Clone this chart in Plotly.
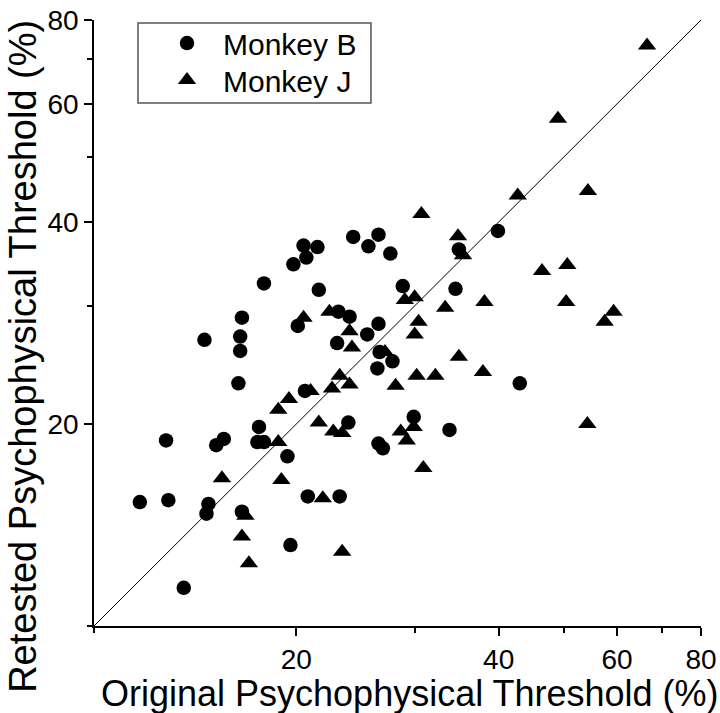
import math
import plotly.graph_objects as go

# Monkey B (circles): original vs retested threshold (%)
b_orig = [20.5, 20.7, 19.8, 17.9, 16.6, 20.1, 14.6, 16.5, 16.5, 16.4, 20.6,
          21.5, 24.3, 26.5, 25.6, 27.6, 34.9, 21.6, 28.8, 34.5, 23.1, 24.0,
          26.5, 25.5, 23.0, 26.6, 27.8, 26.4, 39.9, 43.0, 12.8, 15.2, 15.6,
          17.6, 17.5, 17.9, 19.4, 11.7, 12.9, 20.8, 14.8, 14.7, 16.6, 19.6,
          13.6, 23.9, 29.9, 33.8, 26.5, 26.9, 23.2]
b_retest = [36.9, 35.4, 34.6, 32.4, 28.8, 28.0, 26.7, 27.0, 25.7, 23.0, 22.4,
            36.7, 38.0, 38.3, 36.8, 35.9, 36.4, 31.7, 32.1, 31.8, 29.4, 28.9,
            28.2, 27.2, 26.4, 25.6, 24.8, 24.2, 38.8, 23.0, 18.9, 18.6, 19.0,
            19.8, 18.8, 18.8, 17.9, 15.3, 15.4, 15.6, 15.2, 14.7, 14.8, 13.2,
            11.4, 20.1, 20.5, 19.6, 18.7, 18.4, 15.6]

# Monkey J (triangles)
j_orig = [20.5, 19.5, 18.8, 30.7, 34.8, 35.4, 29.0, 30.0, 38.1, 33.3, 22.4,
          30.4, 30.0, 24.0, 24.2, 34.9, 27.1, 37.9, 30.2, 32.2, 23.2, 24.0,
          22.6, 28.1, 21.0, 42.7, 54.3, 46.4, 50.6, 50.4, 59.3, 57.5, 54.2,
          18.8, 15.5, 19.0, 16.8, 16.6, 17.0, 21.6, 22.7, 23.4, 29.9, 28.6,
          29.2, 30.9, 21.9, 23.4, 66.5, 49.0]
j_retest = [28.8, 21.8, 21.0, 41.1, 38.1, 35.7, 30.6, 30.9, 30.4, 29.8, 29.4,
            28.4, 27.2, 27.5, 26.0, 25.2, 25.6, 23.9, 23.6, 23.6, 23.6, 22.9,
            22.6, 22.8, 22.4, 43.8, 44.5, 33.8, 34.5, 30.4, 29.4, 28.4, 20.0,
            18.8, 16.6, 16.5, 14.6, 13.6, 12.4, 20.1, 19.5, 19.4, 19.8, 19.5,
            18.9, 17.2, 15.5, 12.9, 73.3, 57.0]

# identity line
diag = [10, 80]

major_ticks = [20, 40, 60, 80]
minor_ticks = [10, 30, 50, 70]
axis_range = [10, 80]

FONT = "Arial, 'Liberation Sans', sans-serif"

fig = go.Figure()
fig.add_trace(go.Scatter(x=diag, y=diag, mode="lines",
                         line=dict(color="black", width=1), showlegend=False,
                         hoverinfo="skip"))
fig.add_trace(go.Scatter(x=b_orig, y=b_retest, mode="markers", name="Monkey B",
                         legend="legend",
                         marker=dict(symbol="circle", size=14.5, color="black",
                                     line=dict(width=0))))
fig.add_trace(go.Scatter(x=j_orig, y=j_retest, mode="markers", name="Monkey J",
                         legend="legend2",
                         marker=dict(symbol="triangle-up", size=16, color="black",
                                     line=dict(width=0))))

lr = [math.log10(axis_range[0]), math.log10(axis_range[1])]

axis_common = dict(
    type="log", range=lr, showgrid=False, zeroline=False, automargin=False,
    showline=True, linecolor="black", linewidth=1.5,
    ticks="outside", ticklen=8, tickwidth=1.5, tickcolor="black",
    tickmode="array", tickvals=major_ticks, ticktext=[str(v) for v in major_ticks],
    tickfont=dict(family=FONT, size=28, color="black"),
    minor=dict(tickmode="array", tickvals=minor_ticks, ticks="outside",
               ticklen=5, tickwidth=1.5, tickcolor="black", showgrid=False),
)

legend_common = dict(xanchor="left", yanchor="middle",
                     bgcolor="rgba(0,0,0,0)", borderwidth=0,
                     font=dict(family=FONT, size=30, color="black"),
                     itemwidth=62, tracegroupgap=0)

fig.update_layout(
    width=720, height=713,
    margin=dict(l=94, r=19, t=20, b=87, autoexpand=False),
    paper_bgcolor="white", plot_bgcolor="white",
    xaxis=axis_common,
    yaxis=axis_common,
    showlegend=True,
    legend=dict(legend_common, x=0.0939, y=0.9620),
    legend2=dict(legend_common, x=0.0939, y=0.9010),
    shapes=[dict(type="rect", xref="paper", yref="paper",
                 x0=0.0725, x1=0.4563, y0=0.863, y1=0.995,
                 line=dict(color="#555555", width=1.5), fillcolor="rgba(0,0,0,0)",
                 layer="above")],
    annotations=[
        dict(text="Original Psychophysical Threshold (%)", xref="paper", yref="paper",
             x=0.5206, y=-0.074, xanchor="center", yanchor="top", showarrow=False,
             font=dict(family=FONT, size=36, color="black")),
        dict(text="Retested Psychophysical Threshold (%)", xref="paper", yref="paper",
             x=-0.154, y=0.445, xanchor="left", yanchor="middle", textangle=-90,
             showarrow=False, font=dict(family=FONT, size=38, color="black")),
    ],
)

fig.write_html("out.html", config={"displayModeBar": False},
               post_script="document.body.style.margin='0';document.body.style.padding='0';")
